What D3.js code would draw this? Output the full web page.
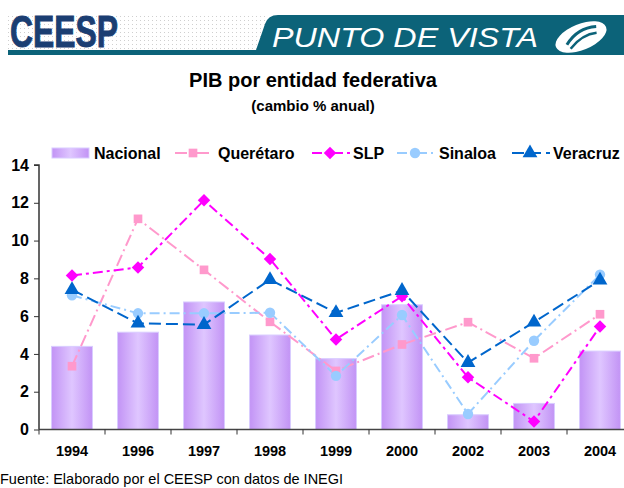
<!DOCTYPE html>
<html><head><meta charset="utf-8">
<script src="https://cdn.jsdelivr.net/npm/d3@7"></script>
<style>body{margin:0;background:#fff;overflow:hidden}svg{display:block}</style>
</head><body>
<script>
const years = ["1994","1996","1997","1998","1999","2000","2002","2003","2004"];
const nacional  = [4.4, 5.15, 6.75, 5.0, 3.75, 6.6, 0.78, 1.38, 4.15];
const queretaro = [3.35, 11.15, 8.45, 5.7, 3.1, 4.5, 5.68, 3.77, 6.1];
const slp       = [8.15, 8.58, 12.13, 9.02, 4.77, 7.05, 2.76, 0.42, 5.45];
const sinaloa   = [7.1, 6.15, 6.15, 6.18, 2.84, 6.06, 0.82, 4.7, 8.2];
const veracruz  = [7.4, 5.62, 5.55, 7.93, 6.18, 7.35, 3.54, 5.68, 7.9];
const yTicks = [0, 2, 4, 6, 8, 10, 12, 14];
const title = "PIB por entidad federativa";
const subtitle = "(cambio % anual)";
const source = "Fuente: Elaborado por el CEESP con datos de INEGI";

const W = 624, H = 488;
const svg = d3.select("body").append("svg").attr("width", W).attr("height", H);
const defs = svg.append("defs");
const FONT = "'Liberation Sans', Arial, sans-serif";

// ---- header ----
const pat = defs.append("pattern").attr("id","dots").attr("width",4).attr("height",4).attr("patternUnits","userSpaceOnUse");
pat.append("rect").attr("width",1).attr("height",1).attr("fill","#cfcfcf");
svg.append("rect").attr("x",8).attr("y",15).attr("width",260).attr("height",36).attr("fill","url(#dots)");
svg.append("path").attr("d","M8,50 L256,50 L265,24 Q268,15 278,15 L624,15 L624,55 L8,55 Z").attr("fill","#0c6379");
svg.append("text").attr("x",10).attr("y",47).attr("font-family","'Liberation Sans Narrow','Liberation Sans',Arial,sans-serif")
  .attr("font-weight","bold").attr("font-size",45).attr("fill","#1b3e72").attr("stroke","#1b3e72").attr("stroke-width",1)
  .attr("textLength",108).attr("lengthAdjust","spacingAndGlyphs").text("CEESP");
svg.append("text").attr("x",272).attr("y",47).attr("font-family",FONT).attr("font-style","italic")
  .attr("font-size",27).attr("fill","#fff").attr("textLength",266).attr("lengthAdjust","spacingAndGlyphs").text("PUNTO DE VISTA");
const lg = svg.append("g").attr("transform","translate(581,37) rotate(-22)");
lg.append("ellipse").attr("rx",27).attr("ry",13).attr("fill","#fff");
lg.append("path").attr("d","M-16,2 Q0,-10 18,-4").attr("stroke","#0c6379").attr("stroke-width",3).attr("fill","none");
lg.append("path").attr("d","M-14,7 Q2,-2 16,2").attr("stroke","#0c6379").attr("stroke-width",2.5).attr("fill","none");

// ---- titles ----
svg.append("text").attr("x",313).attr("y",87).attr("text-anchor","middle").attr("font-family",FONT)
  .attr("font-weight","bold").attr("font-size",20).attr("fill","#000").text(title);
svg.append("text").attr("x",313).attr("y",111).attr("text-anchor","middle").attr("font-family",FONT)
  .attr("font-weight","bold").attr("font-size",15).attr("fill","#000").text(subtitle);

// ---- scales ----
const x = d3.scaleBand().domain(years).range([39, 39 + 66*9]).paddingInner(0.38).paddingOuter(0.19);
const xc = d3.scaleBand().domain(years).range([39, 39 + 66*9]);
const y = d3.scaleLinear().domain([0,14]).range([429.5,165]);

const grad = defs.append("linearGradient").attr("id","barg").attr("x1","0").attr("x2","1").attr("y1","0").attr("y2","0");
grad.append("stop").attr("offset","0%").attr("stop-color","#c293f5");
grad.append("stop").attr("offset","50%").attr("stop-color","#dfc6ff");
grad.append("stop").attr("offset","100%").attr("stop-color","#c293f5");

svg.append("g").selectAll("rect").data(nacional).join("rect")
  .attr("x",(d,i)=>x(years[i])).attr("width",x.bandwidth())
  .attr("y",d=>y(d)).attr("height",d=>y(0)-y(d))
  .attr("fill","url(#barg)").attr("stroke","#d9ccff").attr("stroke-width",1);

// axes
const ya = svg.append("g").attr("transform","translate(39,0)")
  .call(d3.axisLeft(y).tickValues(yTicks).tickSize(5).tickPadding(5));
ya.select(".domain").attr("stroke","#333").attr("stroke-width",1.5).attr("d","M-5,165H0V429.5");
ya.selectAll(".tick line").attr("stroke","#333");
ya.selectAll("text").attr("font-family",FONT).attr("font-weight","bold").attr("font-size",16).attr("fill","#000");

const xa = svg.append("g").attr("transform","translate(0,429.5)")
  .call(d3.axisBottom(xc).tickSize(0).tickPadding(16));
xa.select(".domain").attr("stroke","#444").attr("stroke-width",1.5).attr("d","M39,0H633");
xa.selectAll("text").attr("font-family",FONT).attr("font-weight","bold").attr("font-size",14.5).attr("fill","#000");
xa.selectAll(".sep").data(years.concat(["end"])).join("line").attr("class","sep")
  .attr("x1",(d,i)=>39+66*i).attr("x2",(d,i)=>39+66*i).attr("y1",0).attr("y2",5).attr("stroke","#333");

// series
const series = [
  {name:"Querétaro", vals:queretaro, color:"#ff99cc", dash:"12,4,2,4", shape:d3.symbolSquare, size:75, rot:0},
  {name:"SLP", vals:slp, color:"#ff00ff", dash:"10,4,3,4", shape:d3.symbolSquare, size:78, rot:45},
  {name:"Sinaloa", vals:sinaloa, color:"#99ccff", dash:"10,4,2,4", shape:d3.symbolCircle, size:85, rot:0},
  {name:"Veracruz", vals:veracruz, color:"#0066cc", dash:"12,5", shape:d3.symbolTriangle, size:95, rot:0}
];
const line = d3.line().x((d,i)=>xc(years[i])+xc.bandwidth()/2).y(d=>y(d));
series.forEach(s=>{
  svg.append("path").datum(s.vals).attr("d",line).attr("fill","none")
    .attr("stroke",s.color).attr("stroke-width",2).attr("stroke-dasharray",s.dash);
});
series.forEach(s=>{
  svg.append("g").selectAll("path").data(s.vals).join("path")
    .attr("transform",(d,i)=>`translate(${xc(years[i])+xc.bandwidth()/2},${y(d)}) rotate(${s.rot})`)
    .attr("d",d3.symbol().type(s.shape).size(s.size)).attr("fill",s.color);
});

// legend
const leg = svg.append("g");
leg.append("rect").attr("x",52).attr("y",148).attr("width",37).attr("height",10).attr("fill","url(#barg)").attr("stroke","#d9ccff");
leg.append("text").attr("x",94).attr("y",159).attr("font-family",FONT).attr("font-weight","bold").attr("font-size",16).text("Nacional");
const legX = [[175,218],[312,353],[397,439],[512,553]];
series.forEach((s,k)=>{
  const [lx,tx] = legX[k];
  leg.append("line").attr("x1",lx).attr("x2",lx+38).attr("y1",153).attr("y2",153)
    .attr("stroke",s.color).attr("stroke-width",2).attr("stroke-dasharray",s.dash);
  leg.append("path").attr("transform",`translate(${lx+18},153) rotate(${s.rot})`).attr("d",d3.symbol().type(s.shape).size(s.size)).attr("fill",s.color);
  leg.append("text").attr("x",tx).attr("y",159).attr("font-family",FONT).attr("font-weight","bold").attr("font-size",16).text(s.name);
});

svg.append("text").attr("x",0).attr("y",484).attr("font-family",FONT).attr("font-size",14.5).attr("fill","#000").text(source);
</script>
</body></html>
